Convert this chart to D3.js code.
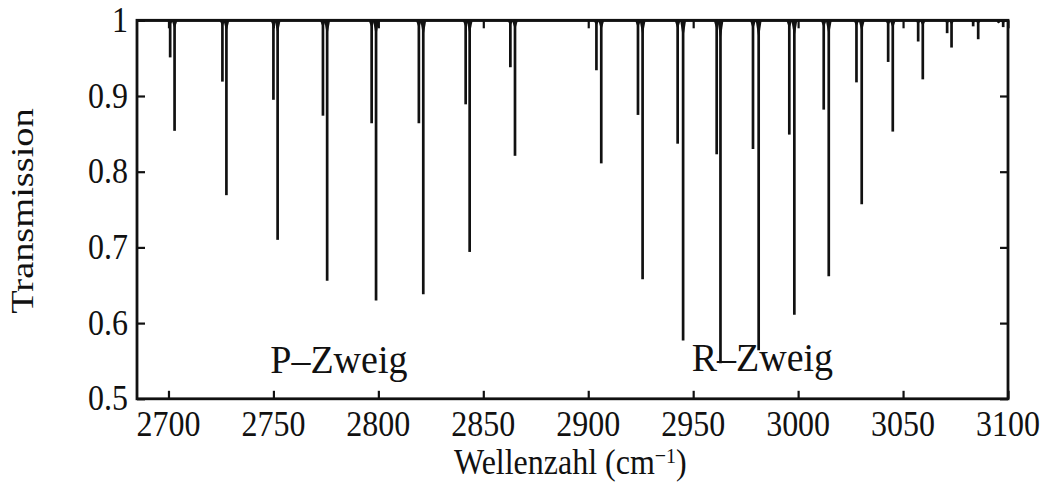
<!DOCTYPE html>
<html>
<head>
<meta charset="utf-8">
<script src="https://cdn.jsdelivr.net/npm/d3@7"></script>
<style>
  body { margin: 0; background: #fff; }
  text { font-family: "Liberation Serif", "Times New Roman", serif; fill: #111; }
</style>
</head>
<body>
<div id="chart"></div>
<script>
// H35Cl lines (strong) : wavenumber and minimum transmission
const h35Pos = [2702.9, 2727.6, 2752.0, 2775.6, 2798.9, 2821.4, 2843.5, 2865.1,
                2906.2, 2925.9, 2945.2, 2963.0, 2981.2, 2998.2, 3014.6, 3030.3,
                3045.1, 3059.4, 3073.1, 3085.8, 3097.7];
const h35Min = [0.854, 0.769, 0.710, 0.656, 0.630, 0.638, 0.694, 0.821,
                0.811, 0.658, 0.577, 0.547, 0.564, 0.611, 0.662, 0.757,
                0.853, 0.922, 0.964, 0.975, 0.991];
// H37Cl lines (weak isotope partners)
const h37Pos = [2700.8, 2725.7, 2750.0, 2773.6, 2796.8, 2819.3, 2841.6, 2862.9,
                2903.9, 2923.7, 2942.6, 2961.2, 2978.5, 2995.8, 3012.2, 3027.8,
                3042.9, 3057.2, 3071.0, 3083.4, 3095.5];
const h37Min = [0.951, 0.919, 0.895, 0.874, 0.864, 0.864, 0.889, 0.938,
                0.934, 0.875, 0.837, 0.823, 0.830, 0.849, 0.882, 0.918,
                0.945, 0.972, 0.983, 0.992, 0.997];

const xTicks = [2700, 2750, 2800, 2850, 2900, 2950, 3000, 3050, 3100];
const yTicks = [0.5, 0.6, 0.7, 0.8, 0.9, 1];
const branchLabels = [
  { text: "P\u2013Zweig", pos: 2748.5, t: 0.5335 },
  { text: "R\u2013Zweig", pos: 2949.3, t: 0.5365 }
];

const W = 1042, H = 483;
const margin = { left: 137, right: 1008, top: 20.3, bottom: 398.8 };

const svg = d3.select("#chart").append("svg")
  .attr("width", W).attr("height", H);

const x = d3.scaleLinear().domain([2685, 3100]).range([margin.left, margin.right]);
const y = d3.scaleLinear().domain([0.5, 1]).range([margin.bottom, margin.top]);

let lines = h35Pos.map((p, i) => ({ pos: p, t: h35Min[i] }))
  .concat(h37Pos.map((p, i) => ({ pos: p, t: h37Min[i] })))
  .filter(d => d.pos > 2685 && d.pos < 3100);

// spectrum baseline at T = 1
svg.append("line")
  .attr("x1", margin.left).attr("x2", margin.right)
  .attr("y1", y(1)).attr("y2", y(1))
  .attr("stroke", "#111").attr("stroke-width", 2.8);

// absorption lines
svg.append("g").selectAll("line")
  .data(lines)
  .enter()
  .append("line")
    .attr("x1", d => x(d.pos)).attr("x2", d => x(d.pos))
    .attr("y1", y(1)).attr("y2", d => y(d.t))
    .attr("stroke", "#111")
    .attr("stroke-width", 2.7);

// little flare at top of each line
svg.append("g").selectAll("path")
  .data(lines)
  .enter()
  .append("path")
    .attr("d", function(d) {
      let cx = x(d.pos), y0 = y(1), h = 0.05 * (y(d.t) - y0) + 3;
      return "M" + (cx - 3) + "," + y0 + "L" + (cx + 3) + "," + y0 + "L" + cx + "," + (y0 + h) + "Z";
    })
    .attr("fill", "#111");

// ticks on all four sides, pointing inward
svg.append("g").attr("transform", "translate(0," + margin.bottom + ")")
  .call(d3.axisBottom(x).tickValues(xTicks).tickSize(-8).tickSizeOuter(0).tickFormat(""));
svg.append("g").attr("transform", "translate(0," + margin.top + ")")
  .call(d3.axisTop(x).tickValues(xTicks).tickSize(-8).tickSizeOuter(0).tickFormat(""));
svg.append("g").attr("transform", "translate(" + margin.left + ",0)")
  .call(d3.axisLeft(y).tickValues(yTicks).tickSize(-8).tickSizeOuter(0).tickFormat(""));
svg.append("g").attr("transform", "translate(" + margin.right + ",0)")
  .call(d3.axisRight(y).tickValues(yTicks).tickSize(-8).tickSizeOuter(0).tickFormat(""));
svg.selectAll(".domain").remove();
svg.selectAll(".tick line").attr("stroke", "#111").attr("stroke-width", 2.2);

// box
svg.append("rect")
  .attr("x", margin.left).attr("y", margin.top)
  .attr("width", margin.right - margin.left).attr("height", margin.bottom - margin.top)
  .attr("fill", "none").attr("stroke", "#111").attr("stroke-width", 2.8);

// tick labels
svg.selectAll("xLabels")
  .data(xTicks)
  .enter()
  .append("text")
    .attr("transform", d => "translate(" + x(d) + ",435.7) scale(1,1.1)")
    .attr("text-anchor", "middle")
    .style("font-size", "32px")
    .text(d => d);

svg.selectAll("yLabels")
  .data(yTicks)
  .enter()
  .append("text")
    .attr("transform", d => "translate(128," + (y(d) + 11.5) + ") scale(1,1.1)")
    .attr("text-anchor", "end")
    .style("font-size", "32px")
    .text(d => d === 1 ? "1" : d3.format(".1f")(d));

// axis titles
let xt = svg.append("text")
  .attr("transform", "translate(454,474) scale(1,1.1)")
  .style("font-size", "32px");
xt.append("tspan").text("Wellenzahl (cm");
xt.append("tspan").attr("dy", -10).style("font-size", "20px").text("\u22121");
xt.append("tspan").attr("dy", 10).text(")");

svg.append("text")
  .attr("transform", "translate(33,211) rotate(-90) scale(1.2,1)")
  .attr("text-anchor", "middle")
  .style("font-size", "32px")
  .text("Transmission");

// branch labels
svg.selectAll("branch")
  .data(branchLabels)
  .enter()
  .append("text")
    .attr("transform", d => "translate(" + x(d.pos) + "," + y(d.t) + ") scale(1,1.05)")
    .style("font-size", "38px")
    .text(d => d.text);
</script>
</body>
</html>
